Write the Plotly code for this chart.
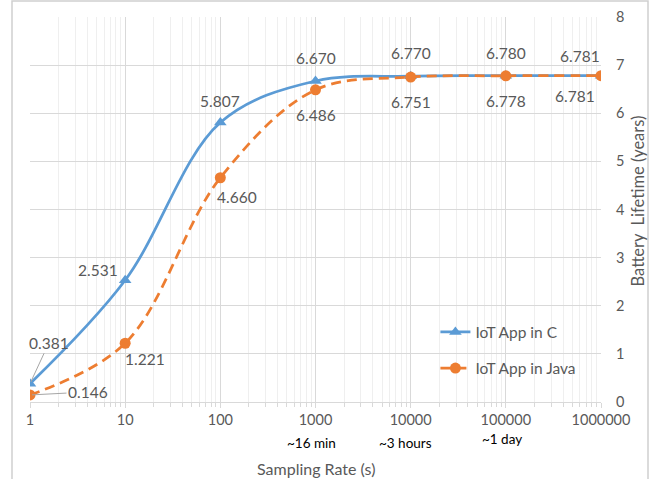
import math
import plotly.graph_objects as go

sampling_rate = [1, 10, 100, 1000, 10000, 100000, 1000000]
iot_c = [0.381, 2.531, 5.807, 6.670, 6.770, 6.780, 6.781]
iot_java = [0.146, 1.221, 4.660, 6.486, 6.751, 6.778, 6.781]
x_tick_labels = ["1", "10", "100", "1000", "10000", "100000", "1000000"]
time_notes = {1000: "~16 min", 10000: "~3 hours", 100000: "~1 day"}
y_ticks = [0, 1, 2, 3, 4, 5, 6, 7, 8]

FONT = "Lato"
GRAY = "#595959"
BLUE = "#5b9bd5"
ORANGE = "#ed7d31"
LABEL_SIZE = 15.5

fig = go.Figure()
fig.add_trace(go.Scatter(
    x=sampling_rate, y=iot_c, name="IoT App in C", mode="lines+markers",
    line=dict(color=BLUE, width=2.75, shape="spline", smoothing=1),
    marker=dict(symbol="triangle-up", size=11, color=BLUE),
    legendgroup="c",
))
fig.add_trace(go.Scatter(
    x=sampling_rate, y=iot_java, name="IoT App in Java", mode="lines+markers",
    line=dict(color=ORANGE, width=2.75, shape="spline", smoothing=1, dash="10px,6px"),
    marker=dict(symbol="circle", size=11, color=ORANGE),
    legendgroup="java",
))

# data label offsets (pixels) per point
c_off = [(19, 41), (-27, 10), (0, 22), (0, 23), (0, 23), (0, 23), (-21, 20)]
j_off = [(58, 3), (20, -16), (17, -19), (0, -25), (0, -25), (0, -25), (-26, -20)]

ann = []
for values, offs in ((iot_c, c_off), (iot_java, j_off)):
    for i, (xv, yv) in enumerate(zip(sampling_rate, values)):
        dx, dy = offs[i]
        if i == 0:
            ann.append(dict(x=math.log10(xv), y=yv, xref="x", yref="y", text=f"{yv:.3f}",
                            showarrow=True, arrowhead=0, arrowwidth=1, arrowcolor="#a6a6a6",
                            ax=dx, ay=-dy, font=dict(family=FONT, size=LABEL_SIZE, color=GRAY),
                            standoff=2))
        else:
            ann.append(dict(x=math.log10(xv), y=yv, xref="x", yref="y", text=f"{yv:.3f}",
                            showarrow=False, xshift=dx, yshift=dy,
                            font=dict(family=FONT, size=LABEL_SIZE, color=GRAY)))

for xv, note in time_notes.items():
    ann.append(dict(x=math.log10(xv), y=0, xref="x", yref="paper", yanchor="top",
                    xshift=-4 if xv != 10000 else -5,
                    yshift=-31 if xv != 100000 else -27, text=note, showarrow=False,
                    font=dict(family=FONT, size=13.5, color="#000000")))

ann.append(dict(x=0.5, y=0, xref="paper", yref="paper", yanchor="top", yshift=-55,
                text="Sampling Rate (s)", showarrow=False,
                font=dict(family=FONT, size=16, color=GRAY)))
ann.append(dict(x=1, y=0.5, xref="paper", yref="paper", xanchor="center",
                xshift=36, yshift=8, textangle=-90,
                text="Battery\u00a0 Lifetime (years)", showarrow=False,
                font=dict(family=FONT, size=16.5, color=GRAY)))

fig.update_layout(
    width=652, height=479,
    margin=dict(l=30, r=51, t=17, b=77, autoexpand=False),
    paper_bgcolor="white", plot_bgcolor="white",
    font=dict(family=FONT, size=14, color=GRAY),
    showlegend=True,
    legend=dict(x=0.71, y=0.225, xanchor="left", yanchor="top",
                bgcolor="rgba(0,0,0,0)", tracegroupgap=13,
                font=dict(family=FONT, size=15.5, color=GRAY)),
    annotations=ann,
    shapes=[dict(type="rect", xref="paper", yref="paper",
                 x0=-18 / 571, x1=(648 - 30) / 571, y0=-100 / 385, y1=1 + 16 / 385,
                 line=dict(color="#d0d0d0", width=1.5), layer="above")],
)
fig.update_xaxes(
    type="log", range=[0, 6], automargin=False,
    tickvals=sampling_rate, ticktext=x_tick_labels,
    showgrid=True, gridcolor="#d9d9d9", gridwidth=1,
    showline=True, linecolor="#d9d9d9", linewidth=1,
    ticks="outside", ticklen=5, tickcolor="#d9d9d9",
    tickfont=dict(family=FONT, size=14.5, color=GRAY),
    minor=dict(dtick="D1", showgrid=True, gridcolor="#efefef", ticks="outside",
               ticklen=4, tickcolor="#d9d9d9"),
    zeroline=False,
)
fig.update_yaxes(
    side="right", range=[0, 8], tickvals=y_ticks, automargin=False,
    showgrid=True, gridcolor="#d9d9d9", gridwidth=1,
    showline=False, zeroline=False, ticks="",
    ticklabelstandoff=14,
    tickfont=dict(family=FONT, size=14.5, color=GRAY),
)
fig.write_html(
    "out.html",
    config={"displayModeBar": False},
    post_script="document.body.style.margin='0';document.body.style.overflow='hidden';",
)
